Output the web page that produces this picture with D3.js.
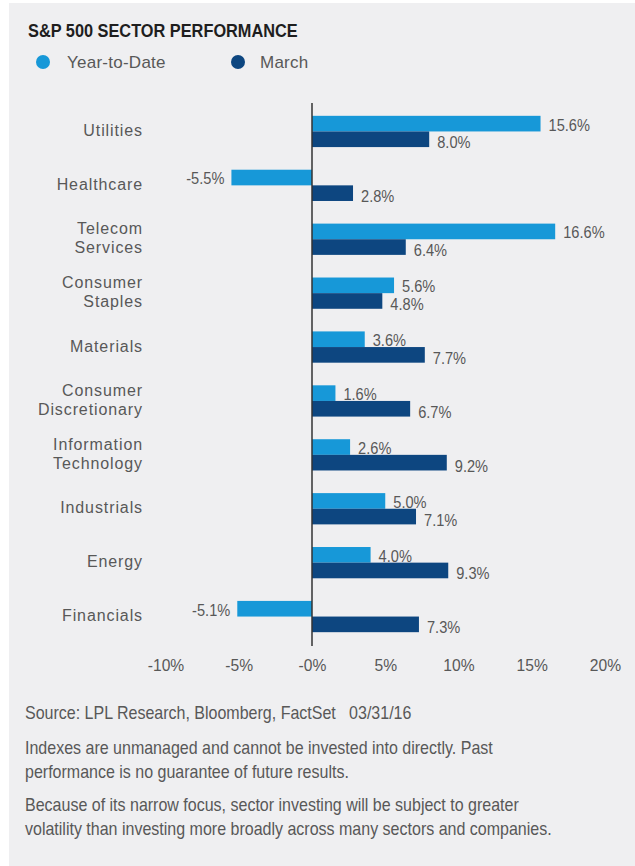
<!DOCTYPE html>
<html>
<head>
<meta charset="utf-8">
<script src="https://cdn.jsdelivr.net/npm/d3@7"></script>
<style>
  html, body { margin: 0; padding: 0; background: #fff; }
  svg { display: block; }
</style>
</head>
<body>
<svg id="chart" width="635" height="866"></svg>
<script>
// S&P 500 sector returns, year-to-date and for March (percent)
const categories = [
  ["Utilities"],
  ["Healthcare"],
  ["Telecom", "Services"],
  ["Consumer", "Staples"],
  ["Materials"],
  ["Consumer", "Discretionary"],
  ["Information", "Technology"],
  ["Industrials"],
  ["Energy"],
  ["Financials"]
];
const ytdValues   = [15.6, -5.5, 16.6, 5.6, 3.6, 1.6, 2.6, 5.0, 4.0, -5.1];
const marchValues = [8.0, 2.8, 6.4, 4.8, 7.7, 6.7, 9.2, 7.1, 9.3, 7.3];
const xTicks = [-10, -5, 0, 5, 10, 15, 20];
const seriesNames = ["Year-to-Date", "March"];

const notes = [
  "Source: LPL Research, Bloomberg, FactSet\u00a0\u00a0\u00a003/31/16",
  "Indexes are unmanaged and cannot be invested into directly. Past",
  "performance is no guarantee of future results.",
  "Because of its narrow focus, sector investing will be subject to greater",
  "volatility than investing more broadly across many sectors and companies."
];

const colors = { ytd: "#1798d8", march: "#0d4680" };
const textColor = "#585858";
const font = "'Liberation Sans', Arial, Helvetica, sans-serif";

const svg = d3.select("#chart");

// panel background
svg.append("rect").attr("width", 635).attr("height", 866).attr("fill", "#fff");
svg.append("rect").attr("x", 9).attr("y", 3).attr("width", 626).attr("height", 863).attr("fill", "#efeff1");

// condensed text: horizontally squeezed about its anchor point
function squeezed(sel, sx) {
  return sel.attr("transform", function () {
    const t = d3.select(this);
    const px = +t.attr("data-x"), py = +t.attr("data-y");
    return `translate(${px},${py}) scale(${sx},1)`;
  });
}

// title
svg.append("text")
  .attr("data-x", 28).attr("data-y", 37)
  .attr("font-family", font).attr("font-weight", "bold")
  .attr("font-size", 19).attr("fill", "#1e1e1e")
  .text("S&P 500 SECTOR PERFORMANCE")
  .call(squeezed, 0.86);

// legend
const legendItems = [
  { cx: 43, tx: 67, color: colors.ytd },
  { cx: 238, tx: 260, color: colors.march }
];
const legend = svg.append("g");
legendItems.forEach((d, i) => {
  legend.append("circle").attr("cx", d.cx).attr("cy", 62).attr("r", 7).attr("fill", d.color);
  legend.append("text").attr("x", d.tx).attr("y", 68)
    .attr("font-family", font).attr("font-size", 17)
    .attr("letter-spacing", 0.25).attr("fill", textColor)
    .text(seriesNames[i]);
});

// scales
const x = d3.scaleLinear().domain([-10, 20]).range([165.5, 605]);
const y = d3.scaleBand()
  .domain(d3.range(categories.length))
  .range([104.5, 643.5])
  .paddingInner(0.42)
  .paddingOuter(0.21);
const sub = d3.scaleBand().domain(["ytd", "march"]).range([0, y.bandwidth()]);

const rows = categories.map((c, i) => ({ i, lines: c, ytd: ytdValues[i], march: marchValues[i] }));
const fmt = v => d3.format(".1f")(v).replace("\u2212", "-") + "%";

// bars and value labels
const groups = svg.append("g").selectAll("g").data(rows).join("g")
  .attr("transform", d => `translate(0,${y(d.i)})`);

["ytd", "march"].forEach(key => {
  groups.append("rect")
    .attr("x", d => x(Math.min(0, d[key])))
    .attr("y", sub(key))
    .attr("width", d => Math.abs(x(d[key]) - x(0)))
    .attr("height", sub.bandwidth())
    .attr("fill", colors[key]);

  groups.append("text")
    .attr("data-x", d => d[key] >= 0 ? x(d[key]) + 8 : x(d[key]) - 7)
    .attr("data-y", sub(key) + sub.bandwidth() / 2 + (key === "march" ? 3 : 1))
    .attr("dy", "0.35em")
    .attr("text-anchor", d => d[key] >= 0 ? "start" : "end")
    .attr("font-family", font).attr("font-size", 17)
    .attr("fill", textColor)
    .text(d => fmt(d[key]))
    .call(squeezed, 0.86);
});

// category labels
groups.append("text")
  .attr("text-anchor", "end")
  .attr("font-family", font).attr("font-size", 16)
  .attr("letter-spacing", 0.9)
  .attr("fill", textColor)
  .each(function (d) {
    const t = d3.select(this);
    const lh = 19;
    const top = y.bandwidth() / 2 - 1 - (d.lines.length - 1) * lh / 2;
    d.lines.forEach((line, k) => {
      t.append("tspan").attr("x", 143).attr("y", top + k * lh).attr("dy", "0.35em").text(line);
    });
  });

// zero line
svg.append("line")
  .attr("x1", x(0)).attr("x2", x(0))
  .attr("y1", 103).attr("y2", 646)
  .attr("stroke", "#333").attr("stroke-width", 1.5);

// x axis labels
const axis = d3.axisBottom(x)
  .tickValues(xTicks)
  .tickSize(0)
  .tickPadding(0)
  .tickFormat(v => (v === 0 ? "-0" : v) + "%");
const ax = svg.append("g").attr("transform", "translate(0,659)").call(axis);
ax.select(".domain").remove();
ax.selectAll("text")
  .attr("font-family", font).attr("font-size", 17)
  .attr("fill", textColor)
  .attr("transform", "scale(0.92,1)");

// notes
const noteY = [719, 754, 778, 811, 835];
svg.append("g").selectAll("text").data(notes).join("text")
  .attr("data-x", 25).attr("data-y", (d, i) => noteY[i])
  .attr("font-family", font).attr("font-size", 17.5)
  .attr("fill", textColor)
  .text(d => d)
  .call(squeezed, 0.915);
</script>
</body>
</html>
